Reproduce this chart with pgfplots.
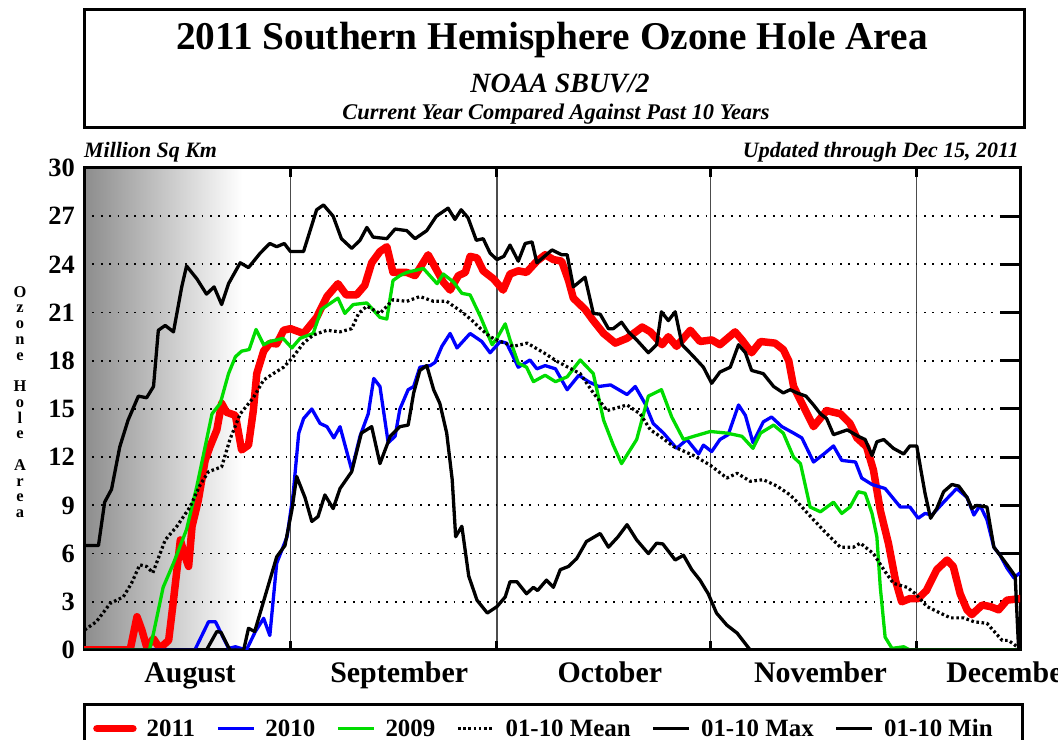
\documentclass[border=0pt]{standalone}
\usepackage{fontspec}
\setmainfont{Liberation Serif}
\usepackage{pgfplots}
\pgfplotsset{compat=1.18}
\definecolor{ored}{RGB}{255,0,0}
\definecolor{oblue}{RGB}{0,0,255}
\definecolor{ogreen}{RGB}{0,220,0}
\newcommand{\fs}[1]{\fontsize{#1}{#1}\selectfont}
\begin{document}
\begin{tikzpicture}[x=1bp,y=1bp]
% title box
\draw[line width=3bp] (84,730) rectangle (1024,612);
\node[anchor=base, inner sep=0, font=\bfseries\fs{39.5}] at (552,690) {2011 Southern Hemisphere Ozone Hole Area};
\node[anchor=base, inner sep=0, font=\bfseries\itshape\fs{28}] at (560,647) {NOAA SBUV/2};
\node[anchor=base, inner sep=0, font=\bfseries\itshape\fs{22.5}] at (556,620) {Current Year Compared Against Past 10 Years};
\node[anchor=base west, inner sep=0, font=\bfseries\itshape\fs{22}] at (84,582) {Million Sq Km};
\node[anchor=base east, inner sep=0, font=\bfseries\itshape\fs{22}] at (1019,582) {Updated through Dec 15, 2011};
\node[inner sep=0, align=center, font=\bfseries\fontsize{16.5}{15.8}\selectfont] at (20,338) {O\\z\\o\\n\\e\\[15.8bp]H\\o\\l\\e\\[15.8bp]A\\r\\e\\a};
% legend box
\draw[line width=3bp] (84,35) rectangle (1022,-10);
\begin{axis}[
  set layers,
  at={(84bp,90bp)}, anchor=south west,
  scale only axis, width=936bp, height=482bp,
  xmin=214, xmax=350, ymin=0, ymax=30,
  axis line style={line width=3bp},
  xtick={244,274,305,335}, xticklabels={},
  xmajorgrids, x grid style={black!70, line width=1.2bp, solid},
  ymajorgrids, y grid style={black, line width=1.8bp, dash pattern=on 1.8bp off 6.6bp},
  ytick={0,3,...,30},
  ytick pos=right, yticklabel pos=left,
  tick align=inside,
  major tick length=20bp,
  tick style={black, line width=3bp},
  xtick style={/pgfplots/major tick length=9bp},
  /pgf/number format/assume math mode=true,
  yticklabel style={font=\bfseries\fs{26.5}, inner sep=0pt, xshift=-9bp},
  extra x ticks={229.4,259.8,290.4,321,348.7},
  extra x tick labels={August,September,October,November,December},
  extra x tick style={grid=none, tick style={draw=none}, xticklabel style={font=\bfseries\fs{30}, anchor=base, yshift=-33bp}},
  legend columns=6,
  legend style={at={(axis description cs:0.0096,-0.163)}, anchor=west, draw=none, fill=none, inner sep=0pt,
    font=\bfseries\fs{25}, nodes={inner sep=0pt},
    /tikz/every even column/.append style={column sep=21bp},
    /tikz/every odd column/.append style={column sep=10bp}},
  legend image code/.code={\draw[#1] (2bp,0bp) -- (38bp,0bp);},
  every axis plot/.append style={line join=round},
]
\begin{pgfonlayer}{axis background}
\fill[left color=black!45, right color=white] (axis cs:214,0) rectangle (axis cs:237,30);
\end{pgfonlayer}

% 2011
\addplot[ored, line width=7.5bp, line cap=round] coordinates {
(214,0)(220.7,0)(221.7,2.07)(222.4,1.25)(223.1,0.2)(224.1,0.7)(225,0.1)(226.3,0.6)(227,3.1)(228,6.85)(228.7,5.8)(229.2,5.2)(229.7,7.7)(230.6,9.3)(231.6,11.8)(232.3,12.65)(233.3,13.7)(234,15.35)(234.7,14.8)(236,14.6)(236.9,12.45)(237.9,12.75)(238.6,14.9)(239.1,17.2)(240.1,18.6)(241,19.1)(242,19.05)(243,19.9)(244,20.0)(245.9,19.7)(247.8,20.7)(249.3,22.0)(250.9,22.8)(252.1,22.1)(253.6,22.1)(254.8,22.7)(255.8,24.1)(257,24.8)(258,25.1)(258.9,23.5)(260.9,23.5)(262.1,23.3)(264,24.6)(265.3,23.6)(266.2,22.9)(267.2,22.4)(268.4,23.3)(269.4,23.5)(270.1,24.5)(271.1,24.4)(272,23.6)(273.5,23.1)(274.9,22.4)(275.9,23.4)(277.1,23.6)(278.3,23.5)(279.8,24.2)(281,24.6)(282.2,24.3)(283.4,24.2)(284.4,23.0)(285.1,21.9)(286.8,21.2)(288,20.5)(289.5,19.7)(291.2,19.1)(292.9,19.4)(295.1,20.1)(296.3,19.8)(298,19.0)(298.9,19.5)(300.1,18.9)(302.1,19.9)(303.5,19.2)(305.2,19.3)(306.4,19.0)(308.6,19.8)(309.6,19.3)(311,18.5)(312.3,19.2)(314.4,19.1)(315.6,18.7)(316.4,18.0)(317.1,16.4)(318.6,15.1)(320,13.9)(321.9,14.9)(323.9,14.7)(325.3,14.1)(326.3,13.2)(327.7,12.65)(328.7,11.2)(329.7,8.7)(330.9,6.6)(331.9,4.35)(332.8,3.0)(334,3.2)(335.2,3.2)(336.4,3.7)(337.9,5.0)(339.4,5.6)(340.3,5.2)(341.3,3.5)(342.3,2.5)(343,2.2)(344.5,2.8)(345.7,2.7)(346.9,2.5)(348.1,3.1)(350,3.2)
};
\addlegendentry{2011}
% 2010
\addplot[oblue, line width=3.3bp] coordinates {
(214,0)(230.1,0)(232.1,1.76)(233.1,1.76)(235,0.1)(236,0.2)(237.6,0)(238.9,1.15)(240.1,1.97)(241,0.9)(242,5.4)(243.5,7.05)(244.4,9.75)(245.2,13.5)(245.9,14.4)(247.1,15.0)(248.3,14.1)(249.3,13.9)(250.3,13.2)(251.2,13.9)(252.9,11.2)(254.1,13.3)(255.3,14.7)(256.1,16.9)(257,16.4)(258.2,12.9)(259.2,13.3)(259.9,15.0)(261.1,16.2)(261.9,16.4)(262.8,17.6)(264.3,17.7)(265,17.9)(266,18.9)(267.2,19.7)(268.2,18.8)(270.1,19.7)(271.8,19.2)(273,18.5)(274.5,19.2)(275.4,19.1)(277.1,17.6)(278.8,18.05)(279.8,17.5)(281,17.7)(282.5,17.5)(284.2,16.2)(285.9,17.1)(287.3,16.7)(288.8,16.4)(290.5,16.5)(292.9,15.9)(294.1,16.4)(295.5,15.35)(296.7,14.1)(298.2,13.5)(300.1,12.55)(301.6,13.1)(303.3,12.2)(304,12.75)(305.2,12.35)(306.4,13.1)(307.6,13.4)(309.1,15.25)(310.1,14.6)(311.2,12.9)(312.7,14.2)(313.9,14.5)(315.4,13.9)(317.1,13.5)(318.3,13.2)(320,11.7)(321.5,12.2)(322.9,12.7)(324.1,11.8)(326.1,11.7)(327,10.7)(328.5,10.3)(330.4,10.05)(332.6,8.9)(334,8.9)(335.2,8.2)(336.2,8.5)(337.2,8.4)(338.9,9.2)(340.8,10.05)(342.3,9.5)(343.3,8.4)(344.2,9.0)(345.2,8.1)(346.2,6.4)(347.1,5.9)(348.1,5.1)(349.1,4.5)(350,4.8)
};
\addlegendentry{2010}
% 2009
\addplot[ogreen, line width=3.3bp] coordinates {
(214,0)(223.5,0)(224.1,1.05)(225.5,3.9)(227,5.4)(228.9,7.5)(230.4,10.2)(231.6,12.65)(232.6,14.7)(233.8,15.35)(235,17.2)(236,18.25)(236.9,18.6)(238,18.7)(239,19.95)(240.1,19.0)(241,19.2)(242,19.3)(242.9,19.4)(244.2,18.8)(245.4,19.4)(247.3,19.7)(248.5,21.2)(250.9,21.9)(251.9,20.95)(253.1,21.5)(255.1,21.6)(257,20.7)(258,20.6)(258.9,23.0)(259.9,23.3)(260.9,23.5)(263.3,23.75)(265.3,22.8)(266.2,23.4)(267.7,22.9)(268.9,22.2)(270.1,22.1)(271.6,20.75)(273.3,19.0)(274,19.4)(275.2,20.3)(275.9,19.3)(277.1,17.85)(278.3,17.6)(279.3,16.7)(281,17.1)(282.5,16.7)(284.2,17.0)(286.1,18.05)(288,17.2)(289.5,14.3)(290.9,12.75)(292.1,11.6)(294.3,13.1)(296,15.8)(297.9,16.2)(299.4,14.5)(301.1,13.1)(302.6,13.3)(305,13.6)(307.4,13.5)(309.6,13.3)(311.2,12.55)(312.3,13.5)(314.2,14.0)(315.6,13.5)(317.1,12.0)(318.1,11.6)(319.5,8.9)(321,8.6)(322.9,9.2)(324.1,8.5)(325.3,8.9)(326.5,9.85)(327.5,9.75)(328.5,8.5)(329.2,7.05)(329.7,3.9)(330.4,0.8)(331.4,0.1)(333.1,0.2)(334,0)(350,0)
};
\addlegendentry{2009}
% Mean
\addplot[black, line width=3.2bp, dash pattern=on 2.6bp off 2.6bp] coordinates {
(214.1,1.25)(215.8,1.76)(217.8,2.9)(219.7,3.3)(220.9,4.15)(222.1,5.3)(223.1,5.2)(224,4.8)(225.8,6.85)(227.5,7.7)(229.4,8.9)(230.9,10.3)(232.1,11.1)(234,11.4)(235.2,13.1)(236.7,14.7)(238.6,15.7)(240.1,16.8)(241.5,17.2)(243,17.6)(244.2,18.15)(245.9,19.1)(247.3,19.6)(249.3,19.9)(251.2,19.8)(252.9,20.0)(253.9,20.95)(255.1,21.4)(257,20.95)(258.9,21.8)(260.9,21.7)(262.8,22.0)(264.8,21.7)(266.7,21.7)(267.7,21.4)(268.9,21.05)(270.4,20.5)(271.6,20.0)(273,19.5)(274.5,19.2)(276.4,18.9)(278.4,19.1)(280.8,18.5)(282.8,17.95)(285.2,17.4)(286.1,17.2)(288,16.0)(290,14.9)(292.9,15.25)(294.8,14.7)(296.3,13.7)(297.7,13.3)(299.7,12.65)(302.6,12.1)(305,11.5)(307.4,10.7)(308.9,11.0)(310.8,10.5)(312.7,10.6)(314.7,10.2)(316.6,9.65)(318.1,9.0)(320,8.1)(321.9,7.25)(323.9,6.4)(325.8,6.4)(326.8,6.65)(328.7,6.0)(330.2,5.0)(331.6,4.15)(333.6,3.9)(334.8,3.5)(336.5,2.7)(338.4,2.3)(339.9,2.0)(341.8,2.0)(343.3,1.76)(345.2,1.66)(347.4,0.6)(348.3,0.6)(349.6,0.2)
};
\addlegendentry{01-10 Mean}
% Max
\addplot[black, line width=3.3bp] coordinates {
(214,6.5)(216.1,6.5)(217,9.2)(218,10.0)(219.2,12.65)(220.4,14.3)(221.9,15.8)(223.1,15.7)(224.1,16.4)(224.8,19.9)(225.8,20.2)(227,19.8)(228.2,22.6)(228.9,23.9)(230.4,23.1)(231.8,22.15)(232.9,22.6)(234,21.5)(235,22.8)(236.7,24.1)(237.9,23.8)(239.6,24.7)(241,25.3)(242,25.1)(243.1,25.3)(244,24.8)(245.9,24.8)(247.8,27.4)(248.8,27.7)(250.2,27.0)(251.4,25.6)(252.9,25.0)(254.1,25.5)(255.1,26.3)(256,25.7)(258,25.6)(259.2,26.2)(260.9,26.1)(262.1,25.6)(263.8,26.1)(265.2,27.0)(266.9,27.5)(267.9,26.8)(268.8,27.4)(269.8,26.9)(271,25.5)(272,25.6)(273,24.7)(274,24.3)(275,24.5)(275.9,25.2)(277.1,24.2)(278.1,25.3)(279.1,25.4)(279.8,24.1)(282,24.9)(283.4,24.6)(284.2,24.6)(285.1,22.6)(286.8,23.2)(288,20.95)(289,20.9)(290.2,20.0)(290.9,20.0)(292.1,20.4)(293.1,19.8)(294.3,19.3)(296,18.5)(297.2,19.0)(297.9,21.05)(298.9,20.5)(299.9,21.05)(300.9,19.0)(302.6,18.25)(304,17.6)(305.2,16.6)(306.4,17.3)(307.9,17.6)(309.1,19.0)(310.1,18.5)(311,17.4)(312.7,17.2)(314.2,16.4)(315.6,16.0)(316.6,16.2)(317.6,16.0)(318.9,15.8)(320,15.25)(321,14.7)(321.9,14.4)(322.9,13.4)(324.9,13.7)(326.5,13.3)(327.5,13.1)(328.5,12.1)(329.2,12.96)(330.2,13.1)(331.6,12.55)(333.1,12.2)(334,12.7)(335,12.7)(335.6,11.2)(336.2,9.75)(337,8.2)(337.9,8.8)(338.9,9.85)(340.1,10.3)(341.1,10.2)(342.3,9.5)(343,8.8)(343.7,9.0)(345.2,8.9)(346.2,6.4)(347.1,5.9)(348.3,5.2)(349.3,4.6)(349.8,0)
};
\addlegendentry{01-10 Max}
% Min
\addplot[black, line width=3.3bp] coordinates {
(214,0)(231.8,0)(233.3,1.15)(233.9,1.1)(235.2,0)(237.2,0)(237.9,1.35)(238.8,1.15)(242,5.8)(243.2,6.5)(244.2,8.7)(244.9,10.8)(246.1,9.5)(247.1,8.0)(248,8.3)(249,9.65)(250.2,8.8)(251.2,10.05)(252.9,11.1)(254.3,13.5)(255.8,13.9)(257,11.6)(258.5,13.3)(259.9,13.9)(261.1,14.0)(261.9,16.0)(262.8,17.4)(263.8,17.7)(264.8,16.2)(265.7,15.35)(266.7,13.5)(267.5,10.6)(268,7.05)(268.9,7.7)(269.9,4.6)(271.1,3.1)(272.6,2.3)(274,2.7)(275.2,3.3)(275.9,4.25)(276.9,4.25)(278.3,3.5)(279.3,3.9)(279.9,3.7)(281.2,4.35)(282.2,3.9)(283.2,5.0)(284.4,5.2)(285.6,5.7)(287,6.75)(289,7.25)(290.2,6.4)(291.6,7.05)(292.9,7.8)(294.3,6.85)(296,6.0)(297.2,6.65)(298.1,6.6)(299.9,5.6)(301.1,5.9)(302.3,5.0)(303.5,4.35)(304.7,3.5)(305.9,2.3)(307.4,1.55)(308.9,1.05)(310.8,0)(350,0)
};
\addlegendentry{01-10 Min}
\end{axis}
\pgfresetboundingbox
\path[use as bounding box] (0,0) rectangle (1058,740);
\end{tikzpicture}
\end{document}
